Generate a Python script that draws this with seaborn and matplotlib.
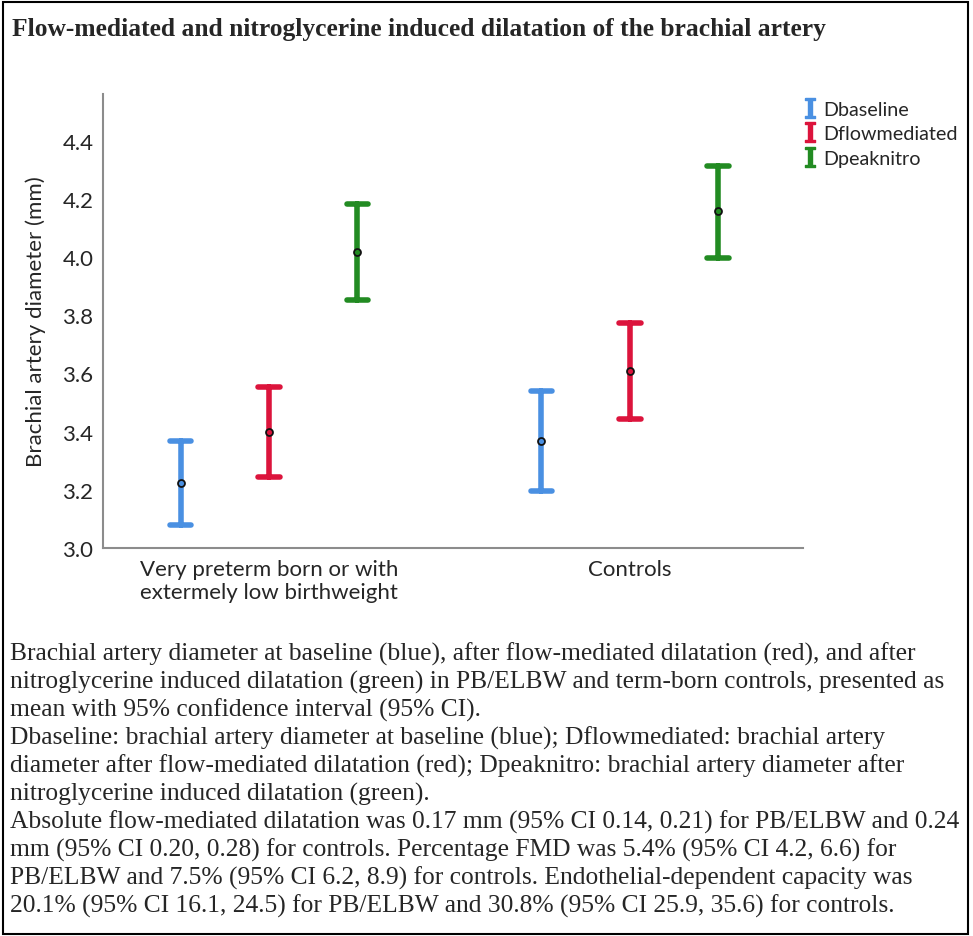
import pandas as pd
import seaborn as sns
import matplotlib.pyplot as plt
from matplotlib.lines import Line2D
from matplotlib.path import Path
from matplotlib.patches import Rectangle

# means and 95% CI
groups = ["Very preterm born or with\nextermely low birthweight", "Controls"]
measures = ["Dbaseline", "Dflowmediated", "Dpeaknitro"]
mean_pb = [3.224, 3.399, 4.018]
low_pb = [3.079, 3.244, 3.853]
high_pb = [3.368, 3.554, 4.183]
mean_ctrl = [3.368, 3.609, 4.159]
low_ctrl = [3.196, 3.444, 3.998]
high_ctrl = [3.540, 3.774, 4.314]
colors = ["#4a90e2", "#dc143c", "#228b22"]

caption = [
    "Brachial artery diameter at baseline (blue), after flow-mediated dilatation (red), and after",
    "nitroglycerine induced dilatation (green) in PB/ELBW and term-born controls, presented as",
    "mean with 95% confidence interval (95% CI).",
    "Dbaseline: brachial artery diameter at baseline (blue); Dflowmediated: brachial artery",
    "diameter after flow-mediated dilatation (red); Dpeaknitro: brachial artery diameter after",
    "nitroglycerine induced dilatation (green).",
    "Absolute flow-mediated dilatation was 0.17 mm (95% CI 0.14, 0.21) for PB/ELBW and 0.24",
    "mm (95% CI 0.20, 0.28) for controls. Percentage FMD was 5.4% (95% CI 4.2, 6.6) for",
    "PB/ELBW and 7.5% (95% CI 6.2, 8.9) for controls. Endothelial-dependent capacity was",
    "20.1% (95% CI 16.1, 24.5) for PB/ELBW and 30.8% (95% CI 25.9, 35.6) for controls.",
]

# long table: low / mean / high per cell -> median = mean, 100% interval = CI
rows = []
for g, lo, mu, hi in [(groups[0], low_pb, mean_pb, high_pb), (groups[1], low_ctrl, mean_ctrl, high_ctrl)]:
    for i, m in enumerate(measures):
        for v in (lo[i], mu[i], hi[i]):
            rows.append({"group": g, "measure": m, "value": v})
df = pd.DataFrame(rows)

sns.set_style("white")
plt.rcParams["font.family"] = ["Lato", "DejaVu Sans"]

fig = plt.figure(figsize=(9.73, 9.37), dpi=100)
ax = fig.add_axes([0.1059, 0.4141, 0.7194, 0.4845])

sns.pointplot(data=df, x="group", y="value", hue="measure", order=groups, hue_order=measures,
              palette=colors, estimator="median", errorbar=("pi", 100), dodge=0.49,
              linestyle="none", capsize=0.06, err_kws={"linewidth": 4},
              markers="o", markersize=5, legend=False, ax=ax)

for ln in ax.lines:
    if ln.get_marker() == "o":
        ln.set_markeredgecolor("#111111")
        ln.set_markeredgewidth(1.3)
        ln.set_zorder(5)

ax.set_ylim(3.0, 4.56)
ax.set_xlim(-0.46, 1.48)
ax.set_yticks([3.0, 3.2, 3.4, 3.6, 3.8, 4.0, 4.2, 4.4])
ax.set_yticklabels(["3.0", "3.2", "3.4", "3.6", "3.8", "4.0", "4.2", "4.4"])
ax.set_xlabel("")
ax.set_ylabel("Brachial artery diameter (mm)", fontsize=16, labelpad=12)
ax.tick_params(axis="y", length=0, labelsize=16, pad=7)
ax.tick_params(axis="x", length=0, labelsize=16, pad=8)
for s in ["top", "right"]:
    ax.spines[s].set_visible(False)
for s in ["left", "bottom"]:
    ax.spines[s].set_color("#8c8c8c")
    ax.spines[s].set_linewidth(1.5)

# I-beam legend marker
ibeam = Path([(-0.5, 1), (0.5, 1), (0.5, 0.75), (0.17, 0.75), (0.17, -0.75), (0.5, -0.75),
              (0.5, -1), (-0.5, -1), (-0.5, -0.75), (-0.17, -0.75), (-0.17, 0.75), (-0.5, 0.75), (-0.5, 1)])
handles = [Line2D([], [], linestyle="none", marker=ibeam, markersize=15, color=c) for c in colors]
fig.legend(handles, measures, loc="upper left", bbox_to_anchor=(0.816, 0.902), frameon=False,
           fontsize=14.2, handlelength=0.6, handletextpad=0.4, labelspacing=0.38, borderpad=0)

fig.text(0.012, 0.969, "Flow-mediated and nitroglycerine induced dilatation of the brachial artery",
         family="Liberation Serif", fontweight="bold", fontsize=18.4, va="center", ha="left")

for i, line in enumerate(caption):
    fig.text(0.010, 1 - (654 + 28 * i) / 937, line, family="Liberation Serif",
             fontsize=18.4, va="center", ha="left")

fig.patches.append(Rectangle((0.003, 0.002), 0.992, 0.995, transform=fig.transFigure,
                             fill=False, edgecolor="black", linewidth=1.5))

fig.savefig("out.png", dpi=100)
